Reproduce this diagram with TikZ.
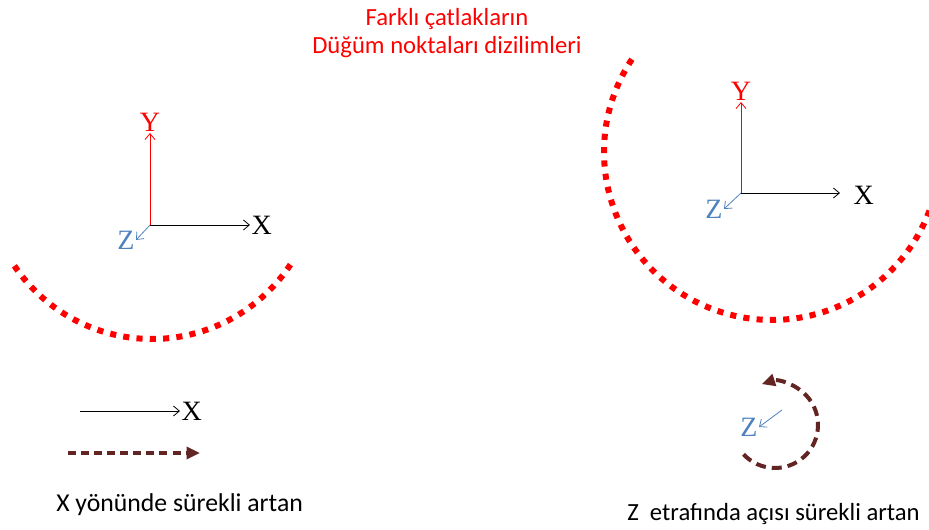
\documentclass[tikz,border=0pt]{standalone}
\usepackage{fontspec}
\setmainfont{Carlito}
\newfontfamily\axisfont{Liberation Serif}
\usetikzlibrary{arrows.meta}

\definecolor{zblue}{RGB}{79,129,189}
\definecolor{darkred}{RGB}{99,37,35}

\tikzset{
  axlbl/.style={inner sep=1pt, font=\axisfont\fontsize{21}{23}\selectfont},
  axis/.style={line width=0.6pt, -{Straight Barb[length=4.5pt,width=7.5pt]}},
  txt/.style={inner sep=0pt, font=\fontsize{18.5}{21}\selectfont},
  crackline/.style={red, line width=4.5pt, dash pattern=on 4.6pt off 5.4pt},
  pathline/.style={darkred, line width=3pt, -{Triangle[length=10pt,width=9pt]}}
}

\begin{document}
\begin{tikzpicture}[x=0.75pt, y=0.75pt]
    \useasboundingbox (0,0) rectangle (929,529);

    % Title
    \node[txt, red, align=center] (title) at (447,496) {Farklı çatlakların\\Düğüm noktaları dizilimleri};

    % Left crack: axes
    \coordinate (o1) at (150,304);
    \node[axlbl, text=red, anchor=south] (y1) at (150,396) {Y};
    \node[axlbl, anchor=west] (x1) at (250,304) {X};
    \node[axlbl, text=zblue, anchor=east] (z1) at (136,289) {Z};
    \draw[axis, red] (o1) -- (y1.south);
    \draw[axis] (o1) -- (x1.west);
    \draw[axis, zblue] (o1) -- (z1.east);

    % Left crack: node line
    \coordinate (m1) at (152,356);
    \draw[crackline] ([shift={(214:166)}]m1) arc[start angle=214, end angle=326.5, radius=166];

    % Right crack: axes
    \coordinate (o2) at (741,336);
    \coordinate (xe2) at (840,336);
    \node[axlbl, text=red, anchor=south] (y2) at (741,427) {Y};
    \node[axlbl, anchor=west] (x2) at (852,334) {X};
    \node[axlbl, text=zblue, anchor=east] (z2) at (724,320) {Z};
    \draw[axis, red] (o2) -- (y2.south);
    \draw[axis] (o2) -- (xe2);
    \draw[axis, zblue] (o2) -- (z2.east);

    % Right crack: node line
    \coordinate (m2) at (772,377);
    \draw[crackline] ([shift={(146.5:168)}]m2) arc[start angle=146.5, end angle=340, radius=168];

    % X direction legend
    \coordinate (a1) at (80,118);
    \node[axlbl, anchor=west] (x3) at (180,118) {X};
    \draw[axis] (a1) -- (x3.west);
    \coordinate (b1) at (68,76);
    \coordinate (b2) at (200,76);
    \draw[pathline, dash pattern=on 6pt off 3.8pt] (b1) -- (b2);
    \node[txt, anchor=west, font=\fontsize{19.3}{21}\selectfont] (lbl1) at (56,24) {X yönünde sürekli artan};

    % Rotation about Z legend
    \coordinate (c) at (775,104);
    \draw[pathline, dash pattern=on 7.5pt off 4.5pt]
      ([shift={(-137:43)}]c) arc[start angle=-137, end angle=108, radius=43];
    \coordinate (zs) at (782,119);
    \node[axlbl, text=zblue, anchor=east] (z3) at (759,102) {Z};
    \draw[axis, zblue] (zs) -- (z3.east);
    \node[txt, anchor=west] (lbl2) at (627,15) {Z\ \ etrafında açısı sürekli artan};
\end{tikzpicture}
\end{document}
